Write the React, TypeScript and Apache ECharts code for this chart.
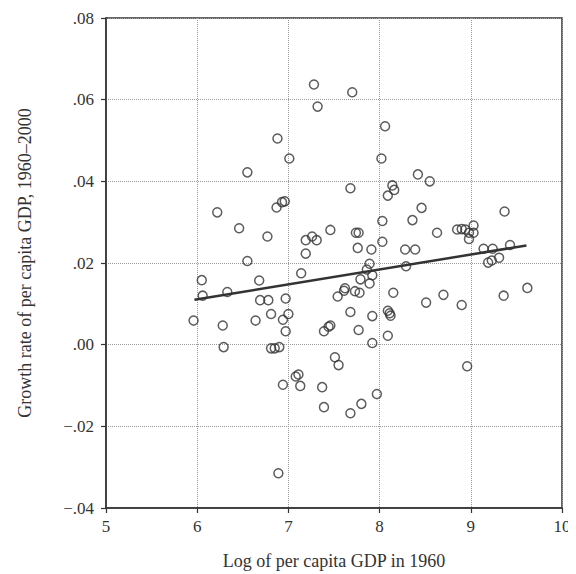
import React, { useEffect, useRef } from "react";
import * as echarts from "echarts";

const logGdp1960: number[] = [
  7.28, 7.32, 6.88, 7.01, 6.55, 6.87, 6.93, 6.96, 6.22, 6.46, 6.77, 7.19, 7.26, 7.31, 7.46, 7.19, 6.55,
  7.70, 8.06, 8.02, 7.68, 8.42, 8.55, 8.14, 8.16, 8.09, 8.46, 8.03, 8.36, 7.74, 7.77, 8.63, 9.37,
  8.85, 8.90, 8.94, 8.98, 9.03, 9.03, 8.98, 7.76, 7.91, 8.03, 8.28, 8.39, 9.14, 9.24, 9.43, 9.31,
  9.23, 9.19, 6.05, 6.68, 7.14, 6.06, 6.33, 6.69, 6.78, 6.97, 5.96, 6.28, 6.64, 6.81, 7.00, 6.94,
  6.97, 6.29, 6.81, 6.85, 6.90, 7.54, 7.39, 7.44, 7.46, 7.51, 7.55, 7.08, 7.11, 6.94, 7.13, 7.37,
  7.39, 6.89, 7.89, 7.86, 7.92, 7.79, 7.89, 8.29, 7.61, 7.62, 7.73, 7.78, 8.15, 8.51, 8.70, 8.90,
  9.36, 9.62, 7.68, 7.92, 8.09, 8.11, 8.12, 7.77, 8.09, 7.92, 8.96, 7.97, 7.80, 7.68,
];

const growthRate: number[] = [
  0.0637, 0.0583, 0.0505, 0.0456, 0.0422, 0.0336, 0.0349, 0.0351, 0.0324, 0.0285, 0.0265, 0.0256, 0.0265, 0.0256, 0.0281, 0.0223, 0.0205,
  0.0618, 0.0535, 0.0456, 0.0383, 0.0417, 0.0400, 0.0390, 0.0379, 0.0365, 0.0335, 0.0303, 0.0305, 0.0274, 0.0274, 0.0274, 0.0326,
  0.0282, 0.0283, 0.0282, 0.0274, 0.0292, 0.0274, 0.0259, 0.0237, 0.0233, 0.0252, 0.0233, 0.0233, 0.0235, 0.0235, 0.0244, 0.0213,
  0.0206, 0.0201, 0.0158, 0.0157, 0.0175, 0.0120, 0.0129, 0.0109, 0.0109, 0.0113, 0.0059, 0.0047, 0.0059, 0.0075, 0.0075, 0.0061,
  0.0033, -0.0006, -0.0009, -0.0009, -0.0006, 0.0118, 0.0033, 0.0044, 0.0047, -0.0031, -0.0050, -0.0078, -0.0073, -0.0098, -0.0101, -0.0104,
  -0.0153, -0.0315, 0.0198, 0.0184, 0.0170, 0.0160, 0.0150, 0.0192, 0.0132, 0.0138, 0.0131, 0.0127, 0.0127, 0.0103, 0.0122, 0.0097,
  0.0120, 0.0139, 0.0080, 0.0070, 0.0083, 0.0077, 0.0071, 0.0036, 0.0022, 0.0004, -0.0053, -0.0121, -0.0145, -0.0168,
];

const fitX: number[] = [5.97, 9.61];
const fitY: number[] = [0.011, 0.0243];

const xTitle = "Log of per capita GDP in 1960";
const yTitle = "Growth rate of per capita GDP, 1960–2000";

function fmtY(v: number): string {
  const r = Math.round(v * 100) / 100;
  const s = Math.abs(r).toFixed(2).replace(/^0/, "");
  return (r < 0 ? "−" : "") + s;
}

export default function App() {
  const ref = useRef<HTMLDivElement>(null);
  useEffect(() => {
    if (!ref.current) return;
    const chart = echarts.init(ref.current, undefined, { renderer: "svg" });
    const pts = logGdp1960.map((x, i) => [x, growthRate[i]]);
    const fit = fitX.map((x, i) => [x, fitY[i]]);
    const font = "'Liberation Serif', 'DejaVu Serif', serif";
    chart.setOption({
      animation: false,
      backgroundColor: "#fff",
      grid: {
        left: 98,
        right: 14,
        top: 10,
        bottom: 66,
        outerBoundsMode: "none",
        containLabel: false,
        show: true,
        borderColor: "#333",
        borderWidth: 1.5,
        backgroundColor: "transparent",
      },
      xAxis: {
        type: "value",
        min: 5,
        max: 10,
        interval: 1,
        name: xTitle,
        nameLocation: "middle",
        nameGap: 44,
        nameTextStyle: { fontFamily: font, fontSize: 18, color: "#333" },
        axisLine: { show: true, onZero: false, lineStyle: { color: "#333", width: 1.5 } },
        axisTick: { show: true, length: 5, lineStyle: { color: "#333", width: 1.2 } },
        axisLabel: { fontFamily: font, fontSize: 17, color: "#333", margin: 10 },
        splitLine: { show: true, lineStyle: { type: "dotted", color: "#999", width: 1 } },
      },
      yAxis: {
        type: "value",
        min: -0.04,
        max: 0.08,
        interval: 0.02,
        name: yTitle,
        nameLocation: "middle",
        nameGap: 72,
        nameTextStyle: { fontFamily: font, fontSize: 18, color: "#333" },
        axisLine: { show: true, onZero: false, lineStyle: { color: "#333", width: 1.5 } },
        axisTick: { show: true, length: 5, lineStyle: { color: "#333", width: 1.2 } },
        axisLabel: { fontFamily: font, fontSize: 17, color: "#333", margin: 12, formatter: fmtY },
        splitLine: { show: true, lineStyle: { type: "dotted", color: "#999", width: 1 } },
      },
      series: [
        {
          type: "scatter",
          data: pts,
          symbol: "circle",
          symbolSize: 9,
          itemStyle: { color: "rgba(255,255,255,0)", borderColor: "#333", borderWidth: 1.5 },
          z: 3,
        },
        {
          type: "line",
          data: fit,
          showSymbol: false,
          symbol: "none",
          lineStyle: { color: "#333", width: 2.5 },
          z: 4,
        },
      ],
    });
    return () => chart.dispose();
  }, []);
  return <div ref={ref} style={{ width: 568, height: 566 }} />;
}
